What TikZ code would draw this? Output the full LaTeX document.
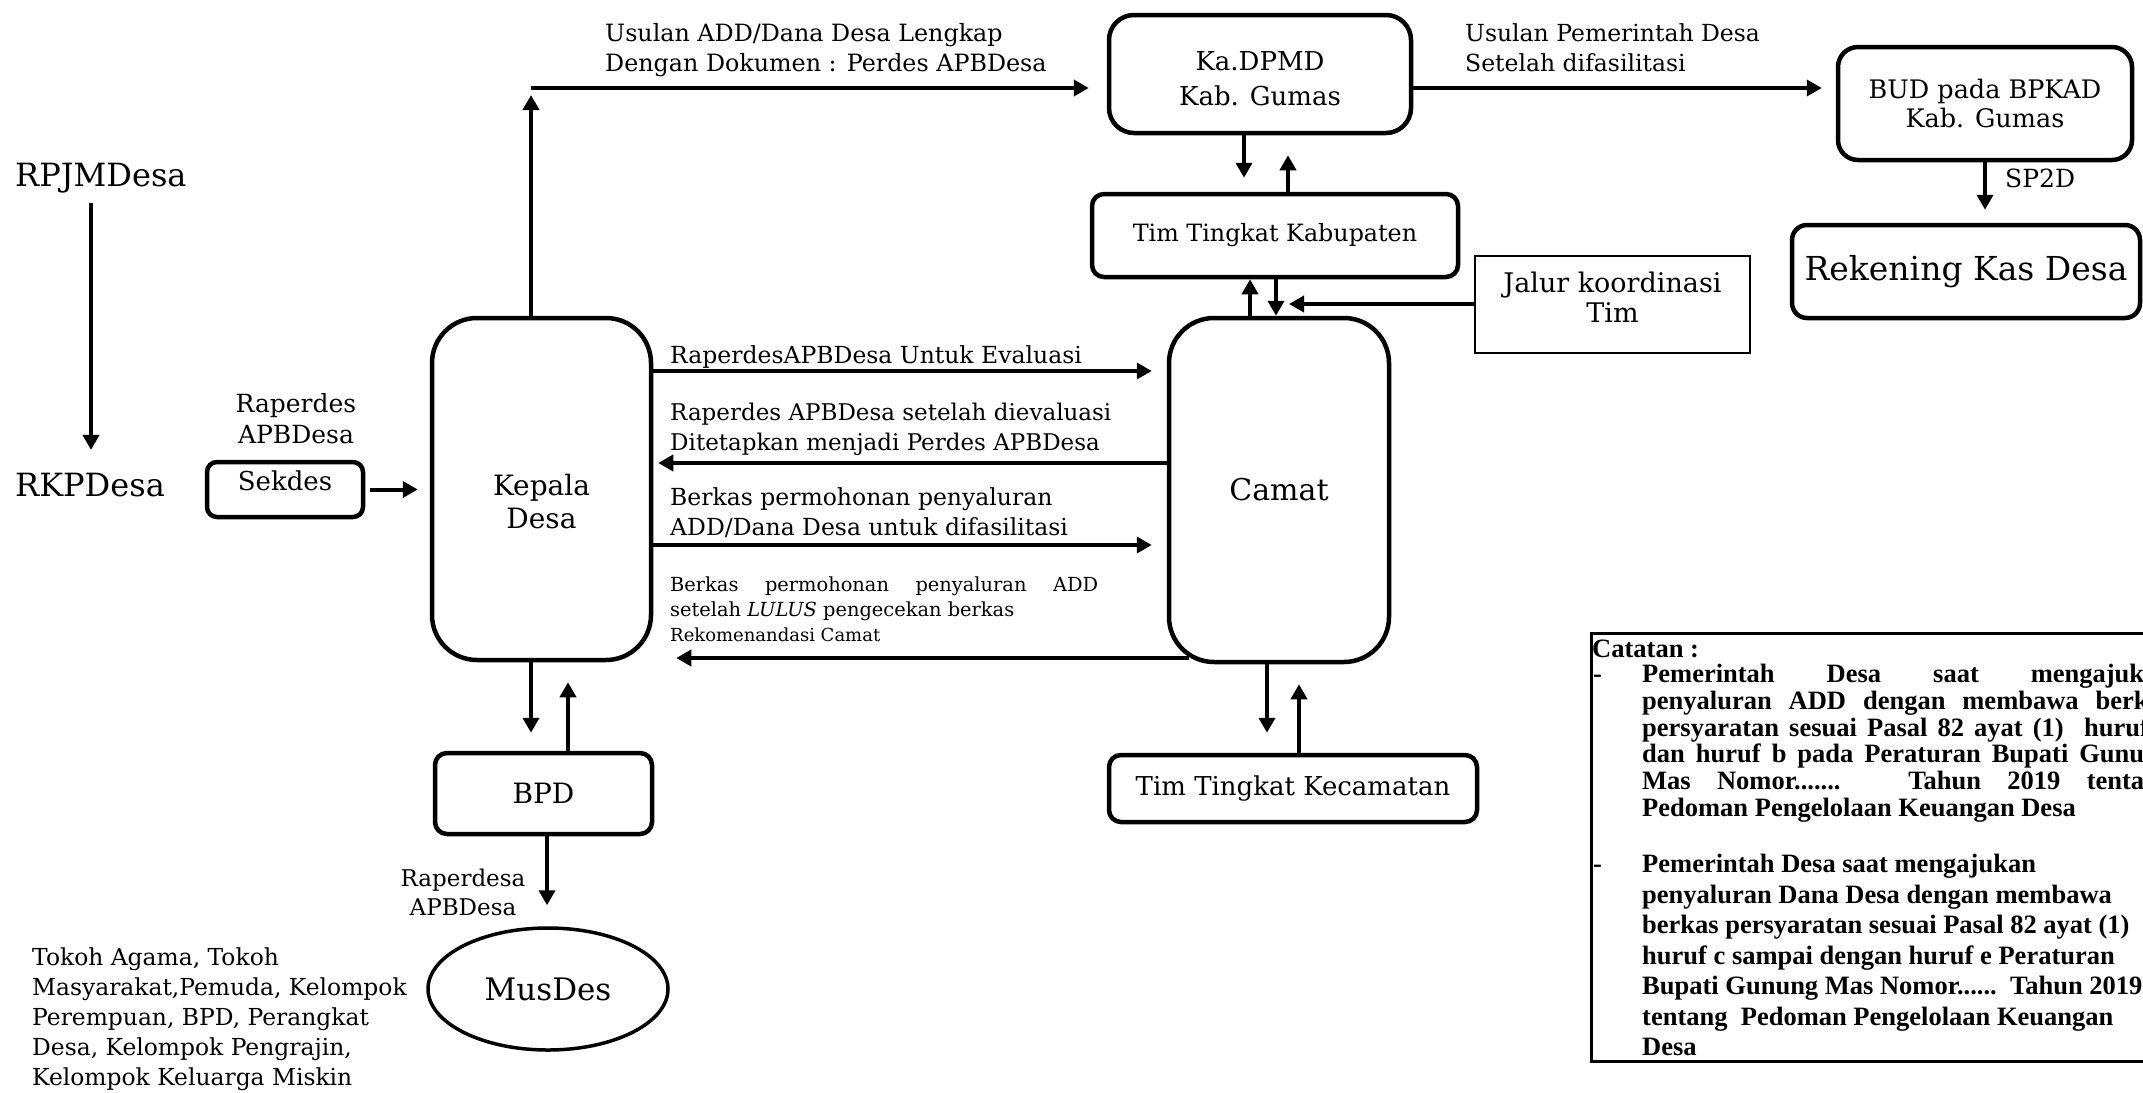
\documentclass[tikz,border=0pt]{standalone}
\usepackage{fontspec}
\setmainfont{DejaVu Serif}
\newfontfamily\notefont{Liberation Serif}
\usetikzlibrary{arrows.meta,calc,shapes.geometric}
\newcommand\myfs[2]{\fontsize{#1}{#2}\selectfont}
\newcommand\stk[2]{\raisebox{#1}[0pt][0pt]{\begin{tabular}{@{}c@{}}#2\end{tabular}}}
\begin{document}
\begin{tikzpicture}[x=1pt,y=-1pt,
 rbox/.style={draw,line width=4.5pt,rounded corners=#1,inner sep=0pt,align=center},
 arr/.style={line width=4pt,-{Triangle[width=16pt,length=15pt]}},
 lbl/.style={inner sep=0pt,align=left},
 note/.style={inner sep=0pt,font=\notefont\fontsize{26.5}{26.8}\selectfont\bfseries},
]
\fill[white] (0,0) rectangle (2143,1092);
\useasboundingbox (0,0) rectangle (2143,1092);

% ---- nodes ----
\node[lbl,anchor=west,font=\myfs{32}{36}] (rpjm) at (15,178) {RPJMDesa};
\node[lbl,anchor=west,font=\myfs{32}{36}] (rkp) at (15,485) {RKPDesa};
\node[lbl,anchor=north,align=center,font=\myfs{25}{31}] (rapl) at (296,393) {Raperdes\\APBDesa};
\node[rbox=10pt,minimum width=156pt,minimum height=55pt,font=\myfs{26}{30}] (sekdes) at (285,489.5) {\raisebox{-1pt}[0pt][0pt]{Sekdes}};
\node[rbox=45pt,minimum width=219pt,minimum height=342pt,font=\myfs{28}{33}] (kepala) at (541.5,489) {\stk{-23pt}{Kepala\\Desa}};
\node[rbox=45pt,minimum width=220pt,minimum height=344pt,font=\myfs{30}{33}] (camat) at (1279,490) {Camat};
\node[rbox=25pt,minimum width=302pt,minimum height=118pt,font=\myfs{26}{35}] (kadpmd) at (1260,74) {\stk{-13.5pt}{Ka.DPMD\\Kab. Gumas}};
\node[rbox=20pt,minimum width=294pt,minimum height=113pt,font=\myfs{25.5}{29}] (bud) at (1985,103.5) {BUD pada BPKAD\\Kab. Gumas};
\node[rbox=15pt,minimum width=348pt,minimum height=93pt,font=\myfs{33}{36}] (rek) at (1966,271.5) {Rekening Kas Desa};
\node[rbox=12pt,minimum width=366pt,minimum height=83pt,font=\myfs{23.8}{26}] (timkab) at (1275,235.5) {Tim Tingkat Kabupaten};
\node[draw,line width=2.7pt,inner sep=0pt,align=center,minimum width=275pt,minimum height=97pt,font=\myfs{27}{30}] (jalur) at (1612.5,304.5) {\stk{-3pt}{Jalur koordinasi\\Tim}};
\node[rbox=12pt,minimum width=368pt,minimum height=67pt,font=\myfs{26}{28}] (timkec) at (1293,788.5) {Tim Tingkat Kecamatan};
\node[rbox=12pt,minimum width=217pt,minimum height=81pt,font=\myfs{28}{30}] (bpd) at (543.5,793.5) {BPD};
\node[draw,ellipse,line width=3.5pt,inner sep=0pt,minimum width=240pt,minimum height=122pt,font=\myfs{31}{34}] (musdes) at (548,989) {MusDes};

% ---- labels ----
\node[lbl,anchor=north west,font=\myfs{23.8}{30}] (l1) at (605,23) {Usulan ADD/Dana Desa Lengkap\\Dengan Dokumen : Perdes APBDesa};
\node[lbl,anchor=north west,font=\myfs{23.5}{30}] (l2) at (1465,23) {Usulan Pemerintah Desa\\Setelah difasilitasi};
\node[lbl,anchor=base west,font=\myfs{25}{28}] (sp2d) at (2005,187) {SP2D};
\node[lbl,anchor=base west,font=\myfs{23.5}{30}] (l3) at (670,363) {RaperdesAPBDesa Untuk Evaluasi};
\node[lbl,anchor=north west,font=\myfs{23}{30}] (l4) at (670,403) {Raperdes APBDesa setelah dievaluasi\\Ditetapkan menjadi Perdes APBDesa};
\node[lbl,anchor=north west,font=\myfs{23.5}{30}] (l5) at (670,487) {Berkas permohonan penyaluran\\ADD/Dana Desa untuk difasilitasi};
\node[lbl,anchor=north west,font=\myfs{19.4}{25}] (l6) at (670,577) {\makebox[428pt][s]{Berkas permohonan penyaluran ADD}\\setelah \textit{LULUS} pengecekan berkas\\{\myfs{18}{25}Rekomenandasi Camat}};
\node[lbl,anchor=north,align=center,font=\myfs{23}{29}] (l7) at (463,869) {Raperdesa\\APBDesa};
\node[lbl,anchor=north west,font=\myfs{23.4}{30}] (l8) at (32,948) {Tokoh Agama, Tokoh\\Masyarakat,Pemuda, Kelompok\\Perempuan, BPD, Perangkat\\Desa, Kelompok Pengrajin,\\Kelompok Keluarga Miskin};

% ---- note ----
\node[draw,line width=2.7pt,anchor=north west,minimum width=610pt,minimum height=428pt,inner sep=0pt] (cat) at (1590,632) {};
\node[note,anchor=base west] (cat0) at (1592,657) {Catatan :};
\node[note,anchor=base west] (d1) at (1593,682) {-};
\node[note,anchor=base west] (d2) at (1593,872) {-};
\node[note,anchor=north west,text width=530pt,align=justify] (cat1) at (1642,664) {Pemerintah Desa saat mengajukan\linebreak penyaluran ADD dengan membawa berkas\linebreak persyaratan sesuai Pasal 82 ayat (1)\ \ huruf a\linebreak dan huruf b pada Peraturan Bupati Gunung\linebreak Mas Nomor....... Tahun 2019 tentang\linebreak Pedoman Pengelolaan Keuangan Desa};
\node[note,anchor=north west,align=left,font=\notefont\fontsize{26.5}{30.5}\selectfont\bfseries] (cat2) at (1642,854) {Pemerintah Desa saat mengajukan\\penyaluran Dana Desa dengan membawa\\berkas persyaratan sesuai Pasal 82 ayat (1)\\huruf c sampai dengan huruf e Peraturan\\Bupati Gunung Mas Nomor......\ \ Tahun 2019\\tentang\ \ Pedoman Pengelolaan Keuangan\\Desa};

% ---- connectors ----
\coordinate (cK) at (531,88);
\draw[arr] (kepala.north -| cK) -- ($(cK)+(0,7)$);
\draw[arr,shorten >=18pt] (cK) -- (cK -| kadpmd.west);
\draw[arr,shorten >=14pt] (kadpmd.east |- cK) -- (bud.west |- cK);

\coordinate (xa) at (1244,0);
\coordinate (xb) at (1288,0);
\draw[arr,shorten >=14pt] (kadpmd.south -| xa) -- (timkab.north -| xa);
\draw[arr,shorten >=20pt] (timkab.north -| xb) -- (kadpmd.south -| xb);
\draw[arr,shorten >=13pt] (bud.south) -- (bud.south |- rek.north);

\coordinate (xc) at (1250,0);
\coordinate (xd) at (1276,0);
\draw[arr] (camat.north -| xc) -- (timkab.south -| xc);
\draw[arr] (timkab.south -| xd) -- (camat.north -| xd);
\coordinate (jt) at (1289,304);
\draw[arr] (jalur.west |- jt) -- (jt);

\coordinate (ya) at (0,371);
\coordinate (yb) at (0,463);
\coordinate (yc) at (0,545);
\coordinate (yd) at (0,658);
\draw[arr,shorten >=15pt] (kepala.east |- ya) -- (camat.west |- ya);
\draw[arr,shorten >=5pt] (camat.west |- yb) -- (kepala.east |- yb);
\draw[arr,shorten >=15pt] (kepala.east |- yc) -- (camat.west |- yc);
\draw[arr,shorten >=23pt] ($(camat.west |- yd)+(22,0)$) -- (kepala.east |- yd);

\coordinate (xe) at (531,0);
\coordinate (xf) at (568,0);
\coordinate (xg) at (547,0);
\coordinate (xh) at (1267,0);
\coordinate (xi) at (1299,0);
\draw[arr,shorten >=18pt] (kepala.south -| xe) -- (bpd.north -| xe);
\draw[arr,shorten >=20pt] (bpd.north -| xf) -- (kepala.south -| xf);
\draw[arr,shorten >=21pt] (bpd.south -| xg) -- (musdes.north -| xg);
\draw[arr,shorten >=20pt] (camat.south -| xh) -- (timkec.north -| xh);
\draw[arr,shorten >=20pt] (timkec.north -| xi) -- (camat.south -| xi);
\draw[arr,shorten <=5pt,shorten >=12pt] (sekdes.east) -- (sekdes.east -| kepala.west);

\coordinate (xj) at (91,0);
\draw[arr,shorten <=10pt,shorten >=23pt] (rpjm.south -| xj) -- (rkp.north -| xj);
\end{tikzpicture}
\end{document}
